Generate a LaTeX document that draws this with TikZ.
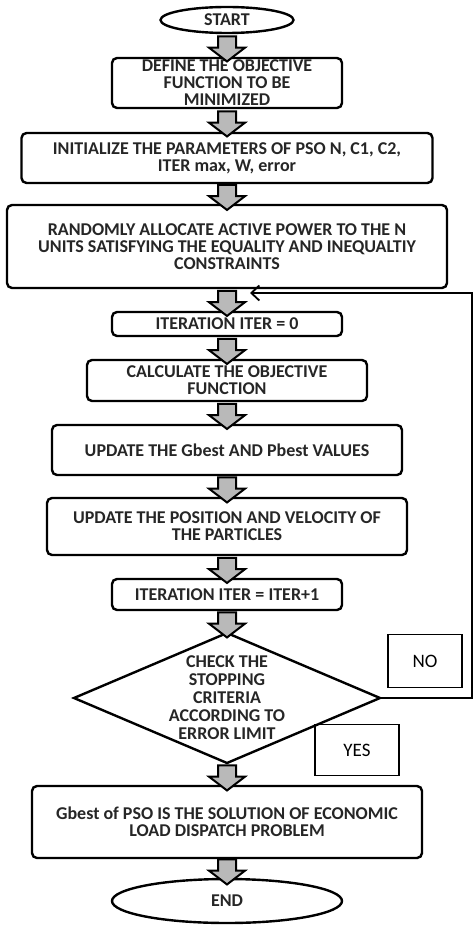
\documentclass[tikz,border=0pt]{standalone}
\usepackage{fontspec}
\setmainfont{Carlito}
\usetikzlibrary{positioning, shapes, arrows.meta, calc}

\begin{document}
\begin{tikzpicture}[node distance = 24pt,
box/.style={rectangle, rounded corners=5pt, draw, line width=2.4pt, outer sep=0pt, align=center, inner sep=0pt, text=black!85, font=\bfseries\fontsize{18}{17}\selectfont},
term/.style={ellipse, draw, line width=2.4pt, outer sep=0pt, inner sep=0pt, text=black!85, font=\bfseries\fontsize{18}{17}\selectfont},
decision/.style={diamond, draw, line width=2.4pt, outer sep=0pt, inner sep=0pt},
flow/.style={single arrow, shape border rotate=270, draw, line width=2pt, fill=gray!55, inner xsep=8pt, inner ysep=0pt, single arrow head extend=9pt, single arrow tip angle=105, minimum height=25pt},
tag/.style={rectangle, draw, line width=1.2pt, font=\fontsize{19}{20}\selectfont},
back/.style={line width=1.8pt, -{Straight Barb[length=8pt, width=15pt]}},
]
\useasboundingbox (0,0) rectangle (473pt,-925pt);

%Nodes
\node [term, minimum width=133pt, minimum height=26pt] (start) at (227pt,-20pt) {START};
\node [box, minimum width=230pt, minimum height=50pt] (define) [below = 25pt of start] {DEFINE THE OBJECTIVE\\FUNCTION TO BE\\MINIMIZED};
\node [box, minimum width=411pt, minimum height=50pt] (init) [below = 25pt of define] {INITIALIZE THE PARAMETERS OF PSO N, C1, C2,\\ITER max, W, error};
\node [box, minimum width=440pt, minimum height=83pt] (random) [below = 22pt of init] {RANDOMLY ALLOCATE ACTIVE POWER TO THE N\\UNITS SATISFYING THE EQUALITY AND INEQUALTIY\\CONSTRAINTS};
\node [box, minimum width=230pt, minimum height=24pt] (iter0) [below = of random] {ITERATION ITER = 0};
\node [box, minimum width=280pt, minimum height=41pt] (calc) [below = of iter0] {CALCULATE THE OBJECTIVE\\FUNCTION};
\node [box, minimum width=350pt, minimum height=50pt] (gpbest) [below = of calc] {UPDATE THE Gbest AND Pbest VALUES};
\node [box, minimum width=360pt, minimum height=57pt] (move) [below = 23pt of gpbest] {UPDATE THE POSITION AND VELOCITY OF\\THE PARTICLES};
\node [box, minimum width=230pt, minimum height=31pt] (iter1) [below = of move] {ITERATION ITER = ITER+1};
\node [decision, minimum width=306pt, minimum height=130pt,
       label={[align=center, text=black!85, font=\bfseries\fontsize{18}{18}\selectfont]center:CHECK THE\\STOPPING\\CRITERIA\\ACCORDING TO\\ERROR LIMIT}] (check) [below = 23pt of iter1] {};
\node [box, minimum width=390pt, minimum height=72pt] (result) [below = 23pt of check] {Gbest of PSO IS THE SOLUTION OF ECONOMIC\\LOAD DISPATCH PROBLEM};
\node [term, minimum width=230pt, minimum height=44pt] (end) [below = 21pt of result] {END};

\node [tag, minimum width=74pt, minimum height=53pt, xshift=198pt, yshift=37pt] (no) at (check) {NO};
\node [tag, minimum width=84pt, minimum height=51pt, xshift=130pt, yshift=-52pt] (yes) at (check) {YES};

% Paths
\foreach \a/\b in {start/define, define/init, init/random, random/iter0, iter0/calc, calc/gpbest, gpbest/move, move/iter1, iter1/check, check/result, result/end}
  \path (\a.south) -- node[flow] (f-\a) {} (\b.north);

\coordinate (loopend) at ($(random.south)!0.5!(iter0.north)$);
\draw [back] (check.east) -- ++(92pt,0) |- ([xshift=23pt, yshift=7pt]loopend);
\end{tikzpicture}
\end{document}
